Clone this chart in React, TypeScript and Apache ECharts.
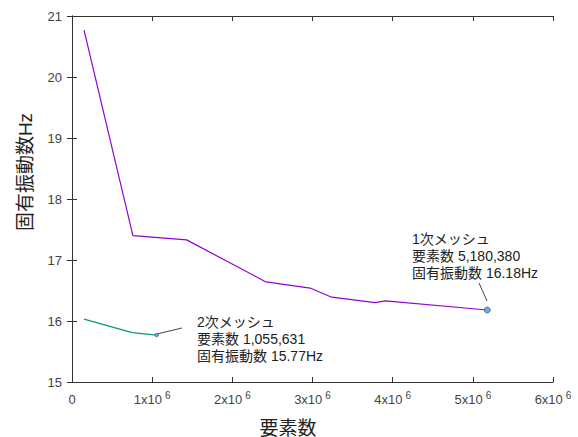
import React, { useEffect, useRef } from "react";
import * as echarts from "echarts";

const elems1 = [150000, 760000, 1430000, 2420000, 2970000, 3240000, 3780000, 3910000, 5180380];
const freq1 = [20.77, 17.4, 17.33, 16.64, 16.54, 16.39, 16.3, 16.33, 16.18];
const elems2 = [150000, 750000, 1055631];
const freq2 = [16.03, 15.81, 15.77];

const xTicks = [0, 1, 2, 3, 4, 5, 6];
const note1 = ["1次メッシュ", "要素数 5,180,380", "固有振動数 16.18Hz"];
const note2 = ["2次メッシュ", "要素数 1,055,631", "固有振動数 15.77Hz"];

const FONT = "'Liberation Sans', 'Noto Sans CJK JP', sans-serif";

function buildData(xs: number[], ys: number[], symSize: number) {
  return xs.map((x, i) =>
    i === xs.length - 1
      ? {
          value: [x, ys[i]],
          symbol: "circle",
          symbolSize: symSize,
          itemStyle: { color: "#7aa6d8", borderColor: "#34598a", borderWidth: 0.8 },
        }
      : { value: [x, ys[i]], symbol: "none" }
  );
}

export default function App() {
  const ref = useRef<HTMLDivElement>(null);
  useEffect(() => {
    if (!ref.current) return;
    const chart = echarts.init(ref.current, undefined, { renderer: "svg" });
    const axisLine = { show: true, lineStyle: { color: "#333", width: 1 } };
    const tick = { show: true, inside: true, length: 5, lineStyle: { color: "#333" } };
    chart.setOption({
      animation: false,
      backgroundColor: "#fff",
      textStyle: { fontFamily: FONT },
      grid: { left: 72, right: 25, top: 16, bottom: 55, containLabel: false },
      xAxis: [
        {
          type: "value",
          min: 0,
          max: 6000000,
          interval: 1000000,
          position: "bottom",
          axisLine,
          axisTick: tick,
          splitLine: { show: false },
          axisLabel: {
            margin: 8,
            color: "#444",
            fontSize: 13,
            fontFamily: FONT,
            formatter: (v: number) => {
              const n = Math.round(v / 1e6);
              if (n === 0) return "{m|0}";
              return `{m|${xTicks[n]}x10}{s|6}`;
            },
            rich: {
              m: { fontSize: 13, color: "#444", fontFamily: FONT, verticalAlign: "bottom", lineHeight: 16 },
              s: { fontSize: 10, color: "#444", fontFamily: FONT, verticalAlign: "top", padding: [0, 0, 0, 3], lineHeight: 16 },
            },
          },
        },
        {
          type: "value",
          min: 0,
          max: 6000000,
          interval: 1000000,
          position: "top",
          axisLine,
          axisTick: tick,
          axisLabel: { show: false },
          splitLine: { show: false },
        },
      ],
      yAxis: [
        {
          type: "value",
          min: 15,
          max: 21,
          interval: 1,
          position: "left",
          axisLine,
          axisTick: tick,
          splitLine: { show: false },
          axisLabel: { margin: 10, color: "#444", fontSize: 13, fontFamily: FONT },
        },
        {
          type: "value",
          min: 15,
          max: 21,
          interval: 1,
          position: "right",
          axisLine,
          axisTick: tick,
          axisLabel: { show: false },
          splitLine: { show: false },
        },
      ],
      series: [
        {
          type: "line",
          xAxisIndex: 0,
          yAxisIndex: 0,
          data: buildData(elems1, freq1, 6),
          showSymbol: true,
          lineStyle: { color: "#9400d3", width: 1.2 },
          itemStyle: { color: "#9400d3" },
        },
        {
          type: "line",
          xAxisIndex: 0,
          yAxisIndex: 0,
          data: buildData(elems2, freq2, 3.5),
          showSymbol: true,
          lineStyle: { color: "#009e73", width: 1.2 },
          itemStyle: { color: "#009e73" },
        },
      ],
      graphic: [
        {
          type: "text",
          x: 25,
          y: 172,
          rotation: Math.PI / 2,
          style: {
            text: "固有振動数Hz",
            fontSize: 19,
            fontFamily: FONT,
            fill: "#222",
            align: "center",
            verticalAlign: "middle",
          },
        },
        {
          type: "text",
          x: 288,
          y: 428,
          style: {
            text: "要素数",
            fontSize: 19,
            fontFamily: FONT,
            fill: "#222",
            align: "center",
            verticalAlign: "middle",
          },
        },
        {
          type: "text",
          x: 412,
          y: 230,
          style: {
            text: note1.join("\n"),
            fontSize: 14,
            lineHeight: 17,
            fontFamily: FONT,
            fill: "#222",
          },
        },
        {
          type: "text",
          x: 197,
          y: 313,
          style: {
            text: note2.join("\n"),
            fontSize: 14,
            lineHeight: 17,
            fontFamily: FONT,
            fill: "#222",
          },
        },
        {
          type: "line",
          shape: { x1: 479, y1: 283, x2: 487, y2: 301 },
          style: { stroke: "#444", lineWidth: 1 },
        },
        {
          type: "line",
          shape: { x1: 157, y1: 334, x2: 182, y2: 328 },
          style: { stroke: "#444", lineWidth: 1 },
        },
      ],
    });
    return () => chart.dispose();
  }, []);
  return (
    <div
      ref={ref}
      style={{ position: "fixed", left: 0, top: 0, width: 578, height: 437, background: "#fff" }}
    />
  );
}
